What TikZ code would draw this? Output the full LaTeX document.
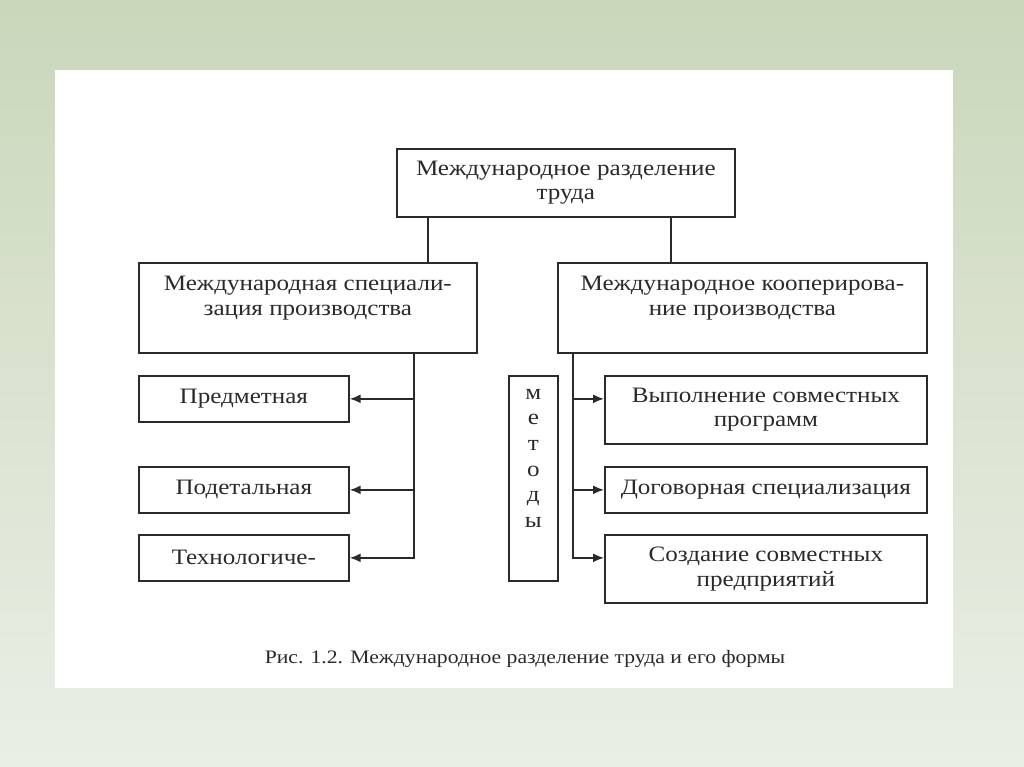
\documentclass[tikz,border=0pt]{standalone}
\usepackage{fontspec}
\setmainfont[FakeStretch=1.14]{Liberation Serif}
\usetikzlibrary{arrows.meta}
\definecolor{bgtop}{HTML}{CAD7BA}
\definecolor{bgbot}{HTML}{EAEFE6}
\definecolor{ink}{HTML}{2A2A2A}
\begin{document}
\begin{tikzpicture}[x=1pt,y=-1pt,
  box/.style={draw=ink, line width=1.7pt, rectangle, inner sep=0pt, anchor=north west},
  txt/.style={text=ink, font=\fontsize{22}{24.5}\selectfont, align=center, inner sep=0pt},
  conn/.style={draw=ink, line width=1.7pt},
  arr/.style={conn, -{Latex[length=11pt,width=9pt]}}]
\shade[top color=bgtop, bottom color=bgbot] (0,0) rectangle (1024,767);
\fill[white] (55,70) rectangle (953,688);
\useasboundingbox (0,0) rectangle (1024,767);
% top
\node[box, txt, minimum width=338, minimum height=68] (top) at (396,148) {Международное разделение\\труда};
% level 2
\node[box, minimum width=338, minimum height=90] (ls) at (138,262) {};
\node[txt, anchor=north] (lstxt) at ([yshift=-14]ls.north) {Международная специали-\\зация производства};
\node[box, minimum width=369, minimum height=90] (rs) at (557,262) {};
\node[txt, anchor=north] (rstxt) at ([yshift=-14]rs.north) {Международное кооперирова-\\ние производства};
% left boxes
\node[box, txt, minimum width=210, minimum height=46] (b1) at (138,375) {Предметная};
\node[box, txt, minimum width=210, minimum height=46] (b2) at (138,466) {Подетальная};
\node[box, txt, minimum width=210, minimum height=46] (b3) at (138,534) {Технологиче-};
% methods
\node[box, minimum width=49, minimum height=205] (met) at (508,375) {};
\node[txt, anchor=north, font=\fontsize{22}{25.6}\selectfont] (mettxt) at ([yshift=-14]met.north) {м\\е\\т\\о\\д\\ы};
% right boxes
\node[box, txt, minimum width=322, minimum height=68] (c1) at (604,375) {Выполнение совместных\\программ};
\node[box, txt, minimum width=322, minimum height=46] (c2) at (604,466) {Договорная специализация};
\node[box, txt, minimum width=322, minimum height=68] (c3) at (604,534) {Создание совместных\\предприятий};
% connectors
\draw[conn] ([xshift=32]top.south west) -- ([xshift=32]top.south west |- ls.north);
\draw[conn] ([xshift=-65]top.south east) -- ([xshift=-65]top.south east |- rs.north);
\coordinate (lt) at ([xshift=-64]ls.south east);
\draw[arr] (lt) |- (b3.east);
\draw[arr] (lt |- b1.east) -- (b1.east);
\draw[arr] (lt |- b2.east) -- (b2.east);
\coordinate (rt) at ([xshift=16]rs.south west);
\draw[arr] (rt) |- (c3.west |- b3.east);
\draw[arr] (rt |- b1.east) -- (c1.west |- b1.east);
\draw[arr] (rt |- b2.east) -- (c2.west);
% caption
\node[text=ink, font=\fontsize{19}{22}\selectfont, inner sep=0pt] (cap) at (525,659) {Рис. 1.2. Международное разделение труда и его формы};
\end{tikzpicture}
\end{document}
